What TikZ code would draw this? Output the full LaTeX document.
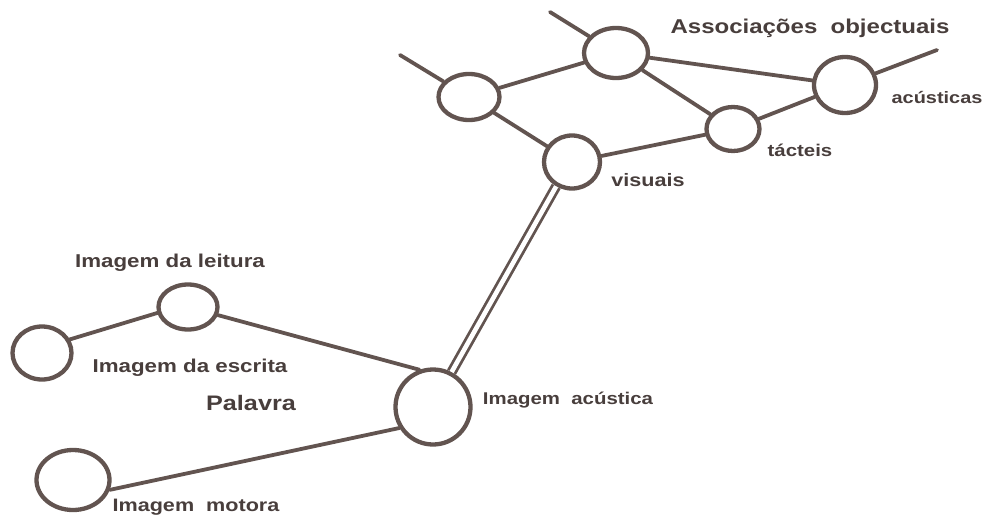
\documentclass[tikz,border=0pt]{standalone}
\usepackage{fontspec}
\usepackage{graphicx}
\setmainfont{Liberation Sans}
\usetikzlibrary{shapes.geometric}
\definecolor{ink}{RGB}{98,84,80}
\definecolor{txt}{RGB}{72,62,60}
\newcommand\lab[2]{\scalebox{1.2}[1]{\fontsize{#1}{#1}\selectfont\bfseries #2}}
\tikzset{
  ring/.style={ellipse,draw=ink,line width=4.3pt,inner sep=0pt,fill=white},
  link/.style={draw=ink,line width=3.8pt,line cap=round},
  dlink/.style={draw=ink,line width=2.8pt,double=white,double distance=4.6pt},
  lbl/.style={text=txt,inner sep=0pt}
}
\begin{document}
\begin{tikzpicture}[x=1pt,y=-1pt]
\useasboundingbox (0,0) rectangle (988,522);
% top group
\node[ring,minimum width=64pt,minimum height=50pt] (A) at (616,53) {};
\node[ring,minimum width=61pt,minimum height=46pt] (B) at (469,97) {};
\node[ring,minimum width=56pt,minimum height=53pt] (C) at (572,162) {};
\node[ring,minimum width=53pt,minimum height=44pt] (D) at (733,129) {};
\node[ring,minimum width=62pt,minimum height=56pt] (E) at (845,85) {};
% word group
\node[ring,minimum width=59pt,minimum height=45pt] (leit) at (188,307) {};
\node[ring,minimum width=59pt,minimum height=53pt] (esc) at (42,353) {};
\node[ring,minimum width=75pt,minimum height=75pt] (acu) at (433,407) {};
\node[ring,minimum width=73pt,minimum height=60pt] (mot) at (73,480) {};
% free ends
\coordinate (bfree) at (400,55);
\coordinate (afree) at (550,12);
\coordinate (efree) at (937,50);
% connectors
\draw[link] (B) -- (bfree);
\draw[link] (A) -- (afree);
\draw[link] (E) -- (efree);
\draw[link] (A) -- (B);
\draw[link] (A) -- (E);
\draw[link] (A) -- (D);
\draw[link] (D) -- (E);
\draw[link] (C) -- (D);
\draw[link] (B) -- (C);
\draw[dlink] (C.237) -- (acu.62);
\draw[link] (esc.26) -- (leit.191);
\draw[link] (leit) -- (acu.110);
\draw[link] (mot.-15) -- (acu.212);
% labels
\node[lbl] (tAssoc) at (810,28) {\lab{20}{Associações\ \ objectuais}};
\node[lbl] (tacus) at (937,97) {\lab{16.6}{acústicas}};
\node[lbl] (ttact) at (800,150) {\lab{17}{tácteis}};
\node[lbl] (tvis) at (648,180) {\lab{18}{visuais}};
\node[lbl] (tleit) at (170,263) {\lab{18.6}{Imagem da leitura}};
\node[lbl] (tesc) at (190,368) {\lab{18.6}{Imagem da escrita}};
\node[lbl] (tpal) at (251,403) {\lab{21}{Palavra}};
\node[lbl] (tacu) at (568,400) {\lab{17}{Imagem\ \ acústica}};
\node[lbl] (tmot) at (196,507) {\lab{18}{Imagem\ \ motora}};
\end{tikzpicture}
\end{document}
